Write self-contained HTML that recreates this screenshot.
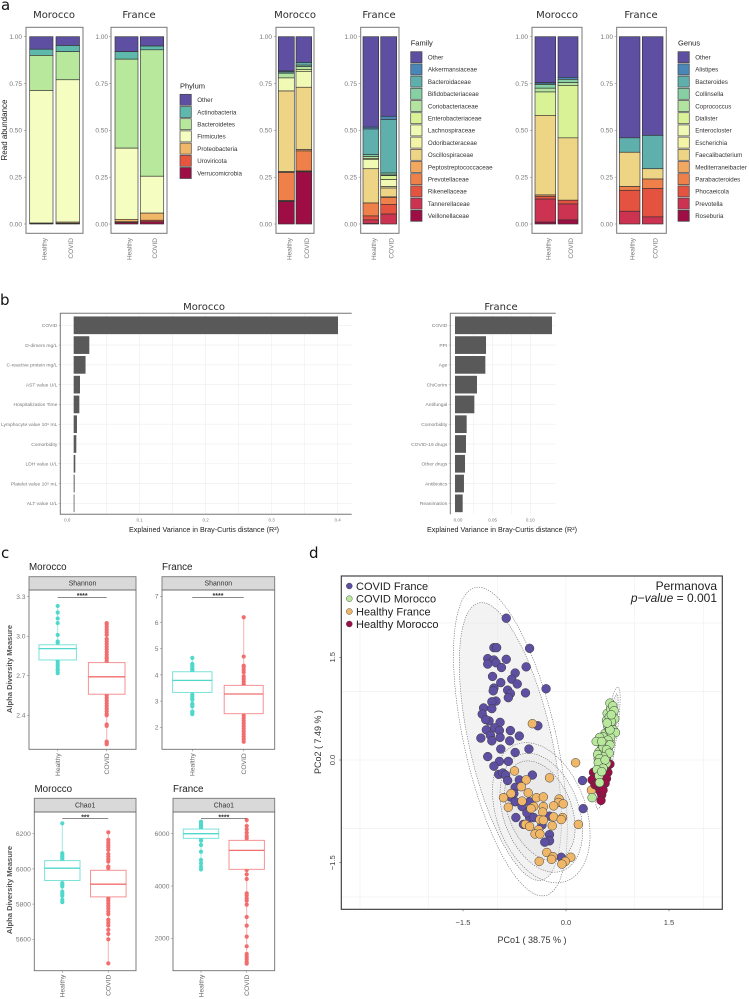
<!DOCTYPE html>
<html lang="en">
<head>
<meta charset="utf-8">
<title>Microbiome composition and diversity, Morocco and France</title>
<style>
html,body{margin:0;padding:0;background:#fff;}
svg{display:block;font-family:"Liberation Sans",sans-serif;}
.tt{font-family:"DejaVu Sans",sans-serif;font-size:10px;fill:#2b2b2b;text-anchor:middle;}
.pl{font-family:"DejaVu Sans",sans-serif;font-size:15px;fill:#111;}
.ct{font-size:9.8px;fill:#222;}
.st{font-size:6.9px;fill:#333;text-anchor:middle;}
.ax{font-size:7.2px;fill:#222;text-anchor:middle;}
.ad{font-size:7.6px;fill:#555;font-weight:bold;text-anchor:middle;}
.lg{font-size:11px;fill:#222;}
</style>
</head>
<body>
<svg id="fig" xmlns="http://www.w3.org/2000/svg" width="749" height="999" viewBox="0 0 749 999">
  <rect width="749" height="999" fill="#fff"/>
  <text class="pl" x="1" y="10">a</text>
  <text class="pl" x="0" y="305">b</text>
  <text class="pl" x="1" y="558">c</text>
  <text class="pl" x="309" y="558">d</text>

  <text class="tt" x="54" y="18">Morocco</text>
  <text class="tt" x="139" y="18">France</text>
  <text class="tt" x="295" y="18">Morocco</text>
  <text class="tt" x="379" y="18">France</text>
  <text class="tt" x="557" y="18">Morocco</text>
  <text class="tt" x="641" y="18">France</text>
  <text transform="translate(7,130) rotate(-90)" font-size="8" fill="#222" text-anchor="middle">Read abundance</text>

  <text class="tt" x="204" y="310">Morocco</text>
  <text class="tt" x="501" y="310">France</text>
  <text class="ax" x="204" y="532">Explained Variance in Bray-Curtis distance (R²)</text>
  <text class="ax" x="502" y="532">Explained Variance in Bray-Curtis distance (R²)</text>

  <text class="ct" x="29" y="570">Morocco</text>
  <text class="ct" x="162" y="570">France</text>
  <text class="ct" x="34.5" y="792">Morocco</text>
  <text class="ct" x="173" y="792">France</text>
  <text class="ad" transform="translate(12,669) rotate(-90)">Alpha Diversity Measure</text>
  <text class="ad" transform="translate(12,890) rotate(-90)">Alpha Diversity Measure</text>

  <g id="stacks"></g>
  <g id="beta"></g>
  <g id="boxes"></g>
  <g id="pcoa"></g>

  <g>
    <circle cx="349.3" cy="586" r="3" fill="#5e4fa2" stroke="#333" stroke-width=".4"/>
    <text class="lg" x="356" y="589.8">COVID France</text>
    <circle cx="349.3" cy="598.7" r="3" fill="#b8e89c" stroke="#333" stroke-width=".4"/>
    <text class="lg" x="356" y="602.5">COVID Morocco</text>
    <circle cx="349.3" cy="611.5" r="3" fill="#f1b768" stroke="#333" stroke-width=".4"/>
    <text class="lg" x="356" y="615.3">Healthy France</text>
    <circle cx="349.3" cy="624" r="3" fill="#9b0f47" stroke="#333" stroke-width=".4"/>
    <text class="lg" x="356" y="627.8">Healthy Morocco</text>
  </g>
  <text x="717" y="590" font-size="12" fill="#222" text-anchor="end">Permanova</text>
  <text x="717" y="602" font-size="12" fill="#222" text-anchor="end"><tspan font-style="italic">p−value</tspan> = 0.001</text>
  <text x="532" y="943" font-size="9" fill="#333" text-anchor="middle">PCo1 ( 38.75 % )</text>
  <text transform="translate(321,742) rotate(-90)" font-size="9" fill="#333" text-anchor="middle">PCo2 ( 7.49 % )</text>
</svg>

<script>
// ---------- Panel a: stacked bar data (top of stack first) ----------
const groupLabels = ['Healthy', 'COVID'];
const abundanceTicks = [0, 0.25, 0.5, 0.75, 1];
const abundanceTickLabels = ['0.00', '0.25', '0.50', '0.75', '1.00'];

const phylumCategories = ['Other','Actinobacteria','Bacteroidetes','Firmicutes','Proteobacteria','Uroviricota','Verrucomicrobia'];
const phylumMoroccoHealthy = [0.067,0.033,0.187,0.708,0.002,0.001,0.002];
const phylumMoroccoCovid   = [0.047,0.033,0.150,0.760,0.006,0.002,0.002];
const phylumFranceHealthy  = [0.080,0.040,0.475,0.380,0.013,0.004,0.008];
const phylumFranceCovid    = [0.050,0.020,0.675,0.197,0.038,0.008,0.012];

const familyCategories = ['Other','Akkermansiaceae','Bacteroidaceae','Bifidobacteriaceae','Coriobacteriaceae','Enterobacteriaceae','Lachnospiraceae','Odoribacteraceae','Oscillospiraceae','Peptostreptococcaceae','Prevotellaceae','Rikenellaceae','Tannerellaceae','Veillonellaceae'];
const familyMoroccoHealthy = [0.183,0.005,0.007,0,0.025,0,0.070,0,0.430,0.005,0.150,0.003,0.002,0.120];
const familyMoroccoCovid   = [0.138,0,0.014,0.008,0.015,0.010,0.085,0,0.333,0.007,0.107,0.003,0.002,0.278];
const familyFranceHealthy  = [0.483,0.010,0.137,0.010,0.010,0.005,0.050,0,0.183,0,0.069,0.021,0.020,0.002];
const familyFranceCovid    = [0.425,0.017,0.286,0.010,0.004,0.021,0.037,0.008,0.047,0.003,0.037,0.052,0.053,0];

const genusCategories = ['Other','Alistipes','Bacteroides','Collinsella','Coprococcus','Dialister','Enterocloster','Escherichia','Faecalibacterium','Mediterraneibacter','Parabacteroides','Phocaeicola','Prevotella','Roseburia'];
const genusMoroccoHealthy = [0.245,0.008,0.002,0.020,0.020,0.125,0,0,0.425,0.007,0,0.015,0.123,0.010];
const genusMoroccoCovid   = [0.217,0.011,0,0.017,0.015,0.280,0,0,0.333,0,0,0.020,0.085,0.022];
const genusFranceHealthy  = [0.540,0,0.077,0,0,0,0,0,0.183,0,0.020,0.112,0.068,0];
const genusFranceCovid    = [0.527,0,0.178,0,0,0,0,0,0.055,0,0.050,0.152,0.038,0];

// ---------- Panel b: variance explained ----------
const betaMoroccoLabels = ['COVID','D-dimers mg/L','C-reactive protein mg/L','AST value U/L','Hospitalization Time','Lymphocyte value 10⁹ mL','Comorbidity','LDH value U/L','Platelet value 10⁹ mL','ALT value U/L'];
const betaMoroccoValues = [0.4005,0.0237,0.018,0.0096,0.0086,0.005,0.004,0.0025,0.0015,0.0012];
const betaMoroccoTicks = [0.1,0.2,0.3,0.4];
const betaFranceLabels = ['COVID','PPI','Age','ChiCorIm','Antifungal','Comorbidity','COVID-19 drugs','Other drugs','Antibiotics','Reanimation'];
const betaFranceValues = [0.1288,0.0412,0.0403,0.0292,0.0257,0.0155,0.0146,0.0133,0.0119,0.0102];
const betaFranceTicks = [0.05,0.10];

// ---------- Panel c: box plots [q1, median, q3] and outlier points ----------
const shannonMoroccoTicks = [2.4,2.7,3.0,3.3];
const shannonMoroccoHealthyBox = [2.82,2.906,2.935];
const shannonMoroccoCovidBox = [2.56,2.692,2.80];
const shannonMoroccoHealthyPts = [3.23,3.18,3.135,3.10,3.01,2.96,2.95,2.81,2.79,2.77,2.75,2.74,2.72];
const shannonMoroccoCovidPts = [3.10,3.09,3.07,3.05,3.03,3.01,2.98,2.96,2.94,2.92,2.90,2.88,2.86,2.84,2.83,2.81,2.55,2.53,2.51,2.49,2.47,2.45,2.43,2.41,2.40,2.33,2.32,2.20,2.19,2.18];
const shannonFranceTicks = [2,3,4,5,6,7];
const shannonFranceHealthyBox = [3.33,3.79,4.12];
const shannonFranceCovidBox = [2.52,3.27,3.6];
const shannonFranceHealthyPts = [4.65,4.42,4.38,4.32,4.25,4.2,4.15,3.25,3.18,3.1,3.05,2.9,2.85,2.8,2.6,2.55,2.5];
const shannonFranceCovidPts = [6.2,4.7,4.35,4.3,4.2,4.1,3.95,3.85,3.75,3.65,2.45,2.35,2.25,2.15,2.05,1.95,1.85,1.75,1.65,1.55,1.45];
const chaoMoroccoTicks = [5600,5800,6000,6200];
const chaoMoroccoHealthyBox = [5934,6004,6047];
const chaoMoroccoCovidBox = [5841,5913,5992];
const chaoMoroccoHealthyPts = [6259,6089,6079,6070,6060,6051,5919,5909,5900,5871,5858,5847,5824,5811];
const chaoMoroccoCovidPts = [6208,6165,6150,6136,6123,6108,6085,6070,6055,6042,6013,6004,5833,5820,5805,5790,5775,5758,5743,5711,5695,5678,5654,5631,5600,5463];
const chaoFranceTicks = [2000,4000,6000];
const chaoFranceHealthyBox = [5822,6000,6178];
const chaoFranceCovidBox = [4637,5363,5745];
const chaoFranceHealthyPts = [6459,6395,6331,6268,6204,5822,5732,5567,5312,4994,4866,4739,4637];
const chaoFranceCovidPts = [6522,6293,6166,6038,5911,5822,4611,4446,4268,3720,3631,3529,3439,3287,2815,2484,2064,1694,1401,1299,1210,1108,1032];

// ---------- Panel d: PCoA scores ----------
const pcoaTicks = [-1.5,0,1.5];
const pcoaTickLabels = ['−1.5','0.0','1.5'];
const pcoaGridX = [-3,-2,-1,0,1,2];
const pcoaGridY = [-2,-1,0,1,2];
const covidFranceX = [-.87,-.53,-1.05,-1.01,-1.14,-1.05,-.87,-1.02,-1.14,-.94,-.58,-1.07,-.74,-.95,-.79,-.71,-.29,-1.05,-1.06,-.85,-.59,-.81,-.84,-1.02,-1.08,-1.20,-1.08,-1.22,-1.12,-1.17,-.96,-1.04,-1.16,-.41,-.97,-.81,-.96,-1.10,-.68,-1.24,-1.08,-.82,-.95,-.54,-.74,-1.14,-.97,-.84,-1.05,-.98,-.92,-.88,-.85,-.49,-.68,.24,-.74,-.81,-.74,-.64,-.53,-.76,-.73,-.62,-.53,-.57,-.47,-.24,.25,-.35,-.24,-.24,-.31,-.07];
const covidFranceY = [2.07,1.63,1.64,1.64,1.48,1.46,1.47,1.42,1.40,1.35,1.36,1.22,1.27,1.13,1.18,1.11,1.04,1.05,1.01,1.02,.98,.97,.91,.86,.85,.76,.75,.67,.57,.59,.55,.47,.44,.50,.43,.43,.33,.36,.35,.32,.28,.28,.16,.16,.11,.05,-.02,-.02,-.09,-.21,-.19,-.22,-.30,-.22,-.29,-.30,-.40,-.54,-.61,-.68,-.61,-.49,-.84,-.94,-.84,-.77,-.84,-.82,-.71,-.95,-1.09,-1.18,-1.20,-1.42];
const healthyFranceX = [-.49,.14,-.75,-.58,-.24,-.65,-.80,-.55,.37,-.91,-.84,-.43,-.33,-.64,-.10,-.11,-.04,-.18,-.33,-.47,-.51,-.34,-.18,-.05,-.07,-.38,-.33,-.59,-.53,-.20,.18,-.40,-.45,-.38,-.28,-.19,-.21,.07,-.39,-.01,-.06];
const healthyFranceY = [.53,-.04,-.16,-.29,-.26,-.39,-.49,-.48,-.44,-.55,-.69,-.55,-.54,-.60,-.57,-.62,-.64,-.67,-.68,-.68,-.71,-.76,-.83,-.84,-.87,-.87,-.88,-.94,-.97,-.96,-.94,-1.02,-1.08,-1.08,-1.35,-1.41,-1.45,-1.42,-1.48,-1.48,-1.52];
const healthyMoroccoX = [.64,.61,.40,.59,.38,.42,.57,.53,.47,.50,.52,.51,.54,.45,.59];
const healthyMoroccoY = [-.06,-.18,-.18,-.27,-.29,-.36,-.34,-.41,-.39,-.46,-.51,-.59,-.44,-.34,-.10];
const covidMoroccoX = [.59,.61,.57,.64,.59,.52,.48,.64,.61,.57,.53,.52,.47,.59,.53,.66,.69,.60,.68,.65,.64,.68,.70,.63,.71,.66,.63,.72,.65,.54,.49,.44,.61,.57,.54,.52,.64,.60,.66,.64,.59,.63,.54,.46,.49,.47,.59,.57,.54,.45,.48,.49,.38,.52];
const covidMoroccoY = [.58,.49,.39,.36,.29,.17,.12,.27,.19,.12,-.02,-.07,.02,.05,.10,.49,.44,.68,.73,.75,.83,.79,.72,.63,.60,.56,.45,.40,.33,.34,.33,.27,.29,.23,.19,.27,.44,.54,.66,.22,.15,.10,.05,.08,.02,-.04,-.05,0,-.12,-.14,-.23,-.33,-.55,-.17];
// confidence ellipses: [centre x, centre y, semi-major, semi-minor]
const ellipseCovidFranceOuter = [-.81,.27,2.30,.67];
const ellipseCovidFranceInner = [-.81,.27,2.07,.60];
const ellipseHealthyFranceOuter = [-.36,-.77,1.06,.65];
const ellipseHealthyFranceInner = [-.36,-.77,.90,.55];
const ellipseHealthyFranceCore = [-.38,-.74,.76,.46];
const ellipseCovidMoroccoOuter = [.61,.175,.90,.10];
const ellipseCovidMoroccoInner = [.61,.175,.80,.07];

// ---------- Colours ----------
const spectral14 = ['#5e4fa2','#4a86b8','#5fb0ac','#86d0a4','#b2e3a0','#d8f295','#f0fab4','#f4f4a6','#eed585','#f3a860','#f0804a','#e45240','#cb3350','#9e0e45'];
const spectral7 = ['#5e4fa2','#5fb8ac','#b8e89c','#f5fdc0','#f1b768','#e8553f','#9e0e45'];

const NS = 'http://www.w3.org/2000/svg';
function mk(parent, tag, attrs, txt) {
  const e = document.createElementNS(NS, tag);
  for (const k in attrs) e.setAttribute(k, attrs[k]);
  if (txt !== undefined) e.textContent = txt;
  parent.appendChild(e);
  return e;
}
function linear(d0, d1, r0, r1) { return v => r0 + (v - d0) * (r1 - r0) / (d1 - d0); }

// ---------- Draw stacked panels ----------
const stacksG = document.getElementById('stacks');
const abundanceY = linear(0, 1, 224, 36.7);
function stackPanel(name, x1, x2, bars, tickX, cats, colors, seriesA, seriesB) {
  const g = mk(stacksG, 'g', {});
  
  
  abundanceTicks.forEach((t, i) => {
    const y = abundanceY(t);
    const tick = mk(g, 'line', {x1: x1 - 2, x2: x1, y1: y, y2: y, stroke: '#777', 'stroke-width': .5});
    
    
    const lab = mk(g, 'text', {x: tickX, y: y + 2.3, 'font-size': 6.5, fill: '#777', 'text-anchor': 'end'}, abundanceTickLabels[i]);
    
    
  });
  [seriesA, seriesB].forEach((series, b) => {
    let top = 1;
    series.forEach((v, i) => {
      if (v > 0) {
        const seg = mk(g, 'rect', {x: bars[b][0], width: bars[b][1] - bars[b][0], y: abundanceY(top), height: abundanceY(top - v) - abundanceY(top), fill: colors[i], stroke: '#333', 'stroke-width': .65});
        
        
      }
      top -= v;
    });
    const cx = (bars[b][0] + bars[b][1]) / 2;
    const lab = mk(g, 'text', {transform: 'translate(' + (cx + 5) + ',238) rotate(-90)', 'font-size': 6.5, fill: '#777', 'text-anchor': 'end'}, groupLabels[b]);
    
    
  });
  const frame = mk(g, 'rect', {x: x1, y: 27.3, width: x2 - x1, height: 206, fill: 'none', stroke: '#777', 'stroke-width': 1});
  
  
}
stackPanel('phylum-morocco', 26, 83, [[29.7,53],[56,79.5]], 22, phylumCategories, spectral7, phylumMoroccoHealthy, phylumMoroccoCovid);
stackPanel('phylum-france', 111, 167, [[115,138],[140.3,163.7]], 108, phylumCategories, spectral7, phylumFranceHealthy, phylumFranceCovid);
stackPanel('family-morocco', 276, 314, [[278.3,294.3],[296,311.7]], 272, familyCategories, spectral14, familyMoroccoHealthy, familyMoroccoCovid);
stackPanel('family-france', 360.7, 399, [[363,378.7],[380.7,396.7]], 357, familyCategories, spectral14, familyFranceHealthy, familyFranceCovid);
stackPanel('genus-morocco', 532, 582, [[535,555.7],[558,578]], 528, genusCategories, spectral14, genusMoroccoHealthy, genusMoroccoCovid);
stackPanel('genus-france', 616.7, 666.3, [[619.3,640],[642.3,663]], 613, genusCategories, spectral14, genusFranceHealthy, genusFranceCovid);

function stackLegend(name, title, x, top, cats, colors) {
  const g = mk(stacksG, 'g', {});
  
  
  const t = mk(g, 'text', {x: x, y: top - 6, 'font-size': 7.5, fill: '#222'}, title);
  
  
  cats.forEach((c, i) => {
    const y = top + i * 12.2;
    const s = mk(g, 'rect', {x: x, y: y, width: 11.3, height: 11, fill: colors[i], stroke: '#444', 'stroke-width': .7});
    
    
    const l = mk(g, 'text', {x: x + 17.2, y: y + 7.8, 'font-size': 6.2, fill: '#333'}, c);
    
    
  });
}
stackLegend('phylum-legend', 'Phylum', 180, 94.3, phylumCategories, spectral7);
stackLegend('family-legend', 'Family', 410.7, 51.7, familyCategories, spectral14);
stackLegend('genus-legend', 'Genus', 678, 51.7, genusCategories, spectral14);

// ---------- Draw beta panels ----------
const betaG = document.getElementById('beta');
function betaPanel(name, left, right, zeroTickX, xScale, labels, values, ticks, fmt, zeroLabel, sides) {
  const g = mk(betaG, 'g', {});
  
  
  const top = 313.3, bottom = 514.3;
  const rowY = i => 325.3 + i * 19.78;
  ticks.forEach(t => {
    [t, t - (ticks[1] - ticks[0]) / 2].forEach(v => {
      const gl = mk(g, 'line', {x1: xScale(v), x2: xScale(v), y1: top, y2: bottom, stroke: '#eeeeee', 'stroke-width': .6});
      
      
    });
    const tl = mk(g, 'text', {x: xScale(t), y: bottom + 7, 'font-size': 4.5, fill: '#777', 'text-anchor': 'middle'}, fmt(t));
    
    
  });
  const zl = mk(g, 'text', {x: zeroTickX, y: bottom + 7, 'font-size': 4.5, fill: '#777', 'text-anchor': 'middle'}, zeroLabel);
  
  
  labels.forEach((lab, i) => {
    const y = rowY(i);
    const gl = mk(g, 'line', {x1: left, x2: right, y1: y, y2: y, stroke: '#eeeeee', 'stroke-width': .6});
    
    
    const bar = mk(g, 'rect', {x: xScale(0), y: y - 8.85, width: xScale(values[i]) - xScale(0), height: 17.7, fill: '#595959'});
    
    
    const tk = mk(g, 'line', {x1: left - 1.5, x2: left, y1: y, y2: y, stroke: '#777', 'stroke-width': .4});
    
    
    const tx = mk(g, 'text', {x: left - 3, y: y + 1.8, 'font-size': 4.9, fill: '#777', 'text-anchor': 'end'}, lab);
    
    
  });
  const border = mk(g, 'path', {d: sides, fill: 'none', stroke: '#777', 'stroke-width': 1});
  
  
}
betaPanel('beta-morocco-panel', 60.3, 351.7, 67.3, linear(0, 0.4, 73.67, 337.67), betaMoroccoLabels, betaMoroccoValues, betaMoroccoTicks, t => t.toFixed(1), '0.0', 'M351.7 313.3H60.3V514.3H351.7');
betaPanel('beta-france-panel', 450.3, 555.7, 458, linear(0, 0.1, 455, 530.3), betaFranceLabels, betaFranceValues, betaFranceTicks, t => t.toFixed(2), '0.00', 'M555.7 313.3H450.3V514.3');

// ---------- Draw box panels ----------
const boxesG = document.getElementById('boxes');
const boxTeal = '#4fd8cb', boxRed = '#f26d6d';
function boxPanel(cfg) {
  const g = mk(boxesG, 'g', {});
  
  
  const strip = mk(g, 'rect', {x: cfg.x1, y: cfg.stripTop, width: cfg.x2 - cfg.x1, height: cfg.top - cfg.stripTop, fill: '#d9d9d9', stroke: '#777', 'stroke-width': .9});
  
  
  const stripLabel = mk(g, 'text', {x: (cfg.x1 + cfg.x2) / 2, y: cfg.top - 4.3, class: 'st'}, cfg.strip);
  
  
  const sy = cfg.y;
  cfg.ticks.forEach(t => {
    const y = sy(t);
    const tk = mk(g, 'line', {x1: cfg.x1 - 2, x2: cfg.x1, y1: y, y2: y, stroke: '#777', 'stroke-width': .5});
    
    
    const tl = mk(g, 'text', {x: cfg.x1 - 3.5, y: y + 2.4, 'font-size': 6.7, fill: '#777', 'text-anchor': 'end'}, cfg.fmt(t));
    
    
  });
  cfg.groups.forEach((gr, i) => {
    const color = i === 0 ? boxTeal : boxRed;
    const all = gr.pts.concat(gr.box);
    const wh = mk(g, 'line', {x1: gr.cx, x2: gr.cx, y1: sy(Math.max.apply(null, all)), y2: sy(Math.min.apply(null, all)), stroke: color, 'stroke-opacity': .55, 'stroke-width': 1});
    
    
    gr.pts.forEach(v => {
      const p = mk(g, 'circle', {cx: gr.cx, cy: sy(v), r: 2.1, fill: color});
      
      
    });
    const box = mk(g, 'rect', {x: gr.cx - gr.hw, width: gr.hw * 2, y: sy(gr.box[2]), height: sy(gr.box[0]) - sy(gr.box[2]), fill: '#fff', stroke: color, 'stroke-opacity': .75, 'stroke-width': 1});
    
    
    const med = mk(g, 'line', {x1: gr.cx - gr.hw, x2: gr.cx + gr.hw, y1: sy(gr.box[1]), y2: sy(gr.box[1]), stroke: color, 'stroke-width': 1.3});
    
    
    const tk = mk(g, 'line', {x1: gr.cx, x2: gr.cx, y1: cfg.bottom, y2: cfg.bottom + 2, stroke: '#777', 'stroke-width': .5});
    
    
    const lab = mk(g, 'text', {transform: 'translate(' + (gr.cx + 2.4) + ',' + (cfg.bottom + 4) + ') rotate(-90)', 'font-size': 6.7, fill: '#666', 'text-anchor': 'end'}, groupLabels[i]);
    
    
  });
  const a = cfg.groups[0].cx, b = cfg.groups[1].cx;
  const sig = mk(g, 'line', {x1: a, x2: b, y1: cfg.sigY, y2: cfg.sigY, stroke: '#444', 'stroke-width': .6});
  
  
  const stars = mk(g, 'text', {x: (a + b) / 2, y: cfg.sigY + 0.8, 'font-size': 7, 'font-weight': 'bold', fill: '#333', 'text-anchor': 'middle'}, cfg.stars);
  
  
  const frame = mk(g, 'rect', {x: cfg.x1, y: cfg.top, width: cfg.x2 - cfg.x1, height: cfg.bottom - cfg.top, fill: 'none', stroke: '#6f6f6f', 'stroke-width': .9});
  
  
}
boxPanel({name: 'shannon-morocco-panel', strip: 'Shannon', x1: 29, x2: 136, stripTop: 576.7, top: 590, bottom: 749.3, sigY: 597.3, stars: '****',
  y: linear(2.4, 3.3, 715.3, 596.7), ticks: shannonMoroccoTicks, fmt: t => t.toFixed(1),
  groups: [{cx: 57.7, hw: 18.7, box: shannonMoroccoHealthyBox, pts: shannonMoroccoHealthyPts}, {cx: 106.7, hw: 18.3, box: shannonMoroccoCovidBox, pts: shannonMoroccoCovidPts}]});
boxPanel({name: 'shannon-france-panel', strip: 'Shannon', x1: 162, x2: 274.7, stripTop: 576.7, top: 590, bottom: 749.3, sigY: 597.3, stars: '****',
  y: linear(2, 7, 727.3, 596.3), ticks: shannonFranceTicks, fmt: t => String(t),
  groups: [{cx: 192.3, hw: 19.7, box: shannonFranceHealthyBox, pts: shannonFranceHealthyPts}, {cx: 243.7, hw: 19.5, box: shannonFranceCovidBox, pts: shannonFranceCovidPts}]});
boxPanel({name: 'chao-morocco-panel', strip: 'Chao1', x1: 34.3, x2: 136, stripTop: 798.3, top: 812, bottom: 970.7, sigY: 818.7, stars: '***',
  y: linear(5600, 6200, 939.3, 833.7), ticks: chaoMoroccoTicks, fmt: t => String(t),
  groups: [{cx: 62.3, hw: 17.7, box: chaoMoroccoHealthyBox, pts: chaoMoroccoHealthyPts}, {cx: 108.3, hw: 17.8, box: chaoMoroccoCovidBox, pts: chaoMoroccoCovidPts}]});
boxPanel({name: 'chao-france-panel', strip: 'Chao1', x1: 173, x2: 274.7, stripTop: 798.3, top: 812, bottom: 970.7, sigY: 818.7, stars: '****',
  y: linear(2000, 6000, 938.3, 833.7), ticks: chaoFranceTicks, fmt: t => String(t),
  groups: [{cx: 201, hw: 17.7, box: chaoFranceHealthyBox, pts: chaoFranceHealthyPts}, {cx: 246.7, hw: 17.7, box: chaoFranceCovidBox, pts: chaoFranceCovidPts}]});

// ---------- Draw PCoA ----------
const pcoaG = document.getElementById('pcoa');
const pcoaX = linear(-1.5, 1.5, 463, 669);
const pcoaY = linear(-1.5, 1.5, 862.75, 657.25);
const pcoaLeft = 341.3, pcoaRight = 722.3, pcoaTop = 576, pcoaBottom = 909.3;
pcoaGridX.forEach(t => {
  const vx = mk(pcoaG, 'line', {x1: pcoaX(t), x2: pcoaX(t), y1: pcoaTop, y2: pcoaBottom, stroke: '#f1f1f1', 'stroke-width': .7});
  
  
});
pcoaGridY.forEach(t => {
  const hz = mk(pcoaG, 'line', {x1: pcoaLeft, x2: pcoaRight, y1: pcoaY(t), y2: pcoaY(t), stroke: '#f1f1f1', 'stroke-width': .7});
  
  
});
pcoaTicks.forEach((t, i) => {
  const tx = mk(pcoaG, 'line', {x1: pcoaX(t), x2: pcoaX(t), y1: pcoaBottom, y2: pcoaBottom + 2, stroke: '#555', 'stroke-width': .6});
  
  
  const ty = mk(pcoaG, 'line', {x1: pcoaLeft - 2, x2: pcoaLeft, y1: pcoaY(t), y2: pcoaY(t), stroke: '#555', 'stroke-width': .6});
  
  
  const lx = mk(pcoaG, 'text', {x: pcoaX(t), y: 925, 'font-size': 7.6, fill: '#444', 'text-anchor': 'middle'}, pcoaTickLabels[i]);
  
  
  const ly = mk(pcoaG, 'text', {transform: 'translate(335,' + pcoaY(t) + ') rotate(-90)', 'font-size': 7.6, fill: '#444', 'text-anchor': 'middle'}, pcoaTickLabels[i]);
  
  
});
function pcoaEllipse(name, e, angle, fill) {
  const cx = pcoaX(e[0]), cy = pcoaY(e[1]);
  const u = pcoaX(1) - pcoaX(0);
  const el = mk(pcoaG, 'ellipse', {cx: cx, cy: cy, rx: e[3] * u, ry: e[2] * u, transform: 'rotate(' + angle + ' ' + cx + ' ' + cy + ')', fill: fill, stroke: '#666', 'stroke-width': .6, 'stroke-dasharray': '1.2 1.2'});
  
  
}
pcoaEllipse('covid-france-ellipse-outer', ellipseCovidFranceOuter, -12.8, 'none');
pcoaEllipse('covid-france-ellipse-inner', ellipseCovidFranceInner, -12.8, 'rgba(232,232,232,.5)');
pcoaEllipse('healthy-france-ellipse-outer', ellipseHealthyFranceOuter, -20, 'none');
pcoaEllipse('healthy-france-ellipse-inner', ellipseHealthyFranceInner, -20, 'rgba(230,230,230,.3)');
pcoaEllipse('healthy-france-ellipse-core', ellipseHealthyFranceCore, -22, 'rgba(225,225,225,.3)');
pcoaEllipse('covid-morocco-ellipse-outer', ellipseCovidMoroccoOuter, 9.5, 'none');
pcoaEllipse('covid-morocco-ellipse-inner', ellipseCovidMoroccoInner, 9.5, 'rgba(225,225,225,.5)');
function pcoaPoints(name, xs, ys, fill) {
  xs.forEach((x, i) => {
    const c = mk(pcoaG, 'circle', {cx: pcoaX(x), cy: pcoaY(ys[i]), r: 4.4, fill: fill, stroke: '#3a3a3a', 'stroke-width': .5});
    
    
  });
}
pcoaPoints('covid-france-point', covidFranceX, covidFranceY, '#5e4fa2');
pcoaPoints('healthy-france-point', healthyFranceX, healthyFranceY, '#f1b768');
pcoaPoints('healthy-morocco-point', healthyMoroccoX, healthyMoroccoY, '#9b0f47');
pcoaPoints('covid-morocco-point', covidMoroccoX, covidMoroccoY, '#b8e89c');
const pcoaFrame = mk(pcoaG, 'rect', {x: pcoaLeft, y: pcoaTop, width: pcoaRight - pcoaLeft, height: pcoaBottom - pcoaTop, fill: 'none', stroke: '#333', 'stroke-width': 1.1});


</script>
</body>
</html>
